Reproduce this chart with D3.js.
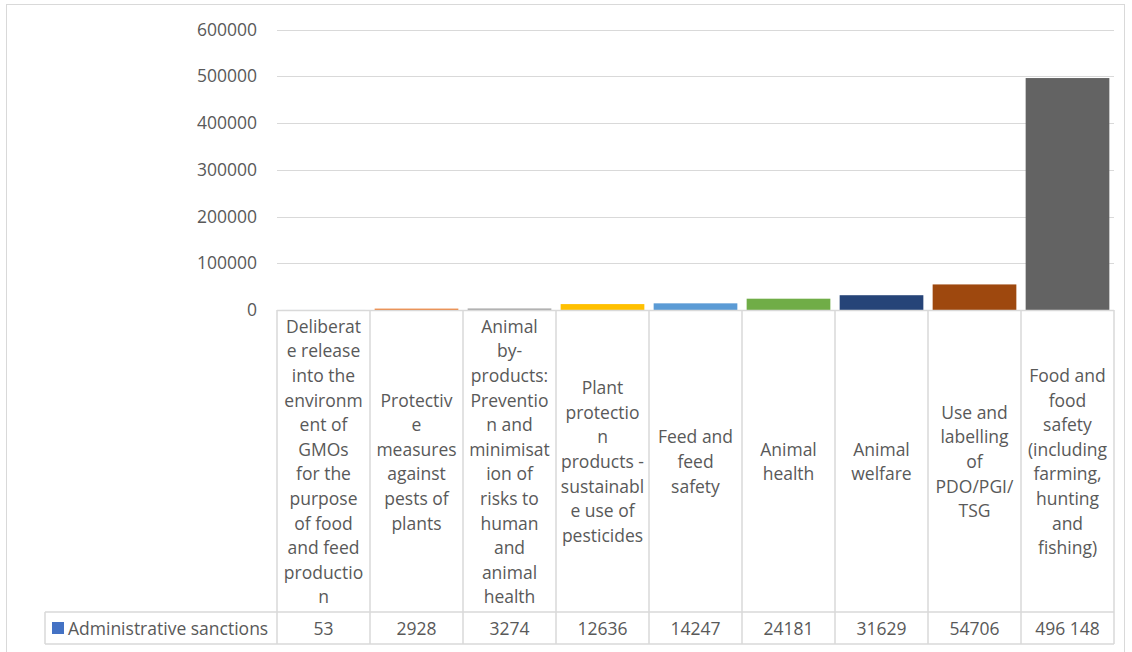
<!DOCTYPE html>
<html>
<head>
<meta charset="utf-8">
<script src="https://cdn.jsdelivr.net/npm/d3@7"></script>
<style>
  html, body { margin: 0; padding: 0; background: #fff; }
  svg { display: block; }
  text { font-family: "Open Sans", "Liberation Sans", sans-serif; fill: #595959; }
</style>
</head>
<body>
<svg id="chart" width="1132" height="652"></svg>
<script>
// ---- data ----
const categories = [
  "Deliberat\ne release\ninto the\nenvironm\nent of\nGMOs\nfor the\npurpose\nof food\nand feed\nproductio\nn",
  "Protectiv\ne\nmeasures\nagainst\npests of\nplants",
  "Animal\nby-\nproducts:\nPreventio\nn and\nminimisat\nion of\nrisks to\nhuman\nand\nanimal\nhealth",
  "Plant\nprotectio\nn\nproducts -\nsustainabl\ne use of\npesticides",
  "Feed and\nfeed\nsafety",
  "Animal\nhealth",
  "Animal\nwelfare",
  "Use and\nlabelling\nof\nPDO/PGI/\nTSG",
  "Food and\nfood\nsafety\n(including\nfarming,\nhunting\nand\nfishing)"
];
const seriesName = "Administrative sanctions";
const values = [53, 2928, 3274, 12636, 14247, 24181, 31629, 54706, 496148];
const valueLabels = ["53", "2928", "3274", "12636", "14247", "24181", "31629", "54706", "496 148"];
const yTicks = [0, 100000, 200000, 300000, 400000, 500000, 600000];
const barColors = ["#4472C4", "#ED7D31", "#A5A5A5", "#FFC000", "#5B9BD5", "#70AD47", "#264478", "#9E480E", "#636363"];
const legendColor = "#4472C4";

// ---- layout ----
const svg = d3.select("#chart");
const plotL = 277, plotR = 1114, plotT = 29.5, plotB = 310;
const rowTop = 612, rowBot = 644, legendL = 45;
const gridColor = "#D9D9D9";
const fontSize = 17.5, lineH = 24.6;

// outer border
svg.append("rect").attr("x", 6.5).attr("y", 4.5).attr("width", 1118).attr("height", 660)
  .attr("fill", "none").attr("stroke", gridColor).attr("stroke-width", 1);

const y = d3.scaleLinear().domain([0, 600000]).range([plotB, plotT]);
const x = d3.scaleBand().domain(d3.range(categories.length)).range([plotL, plotR])
  .paddingInner(0.1).paddingOuter(0.05);
const step = x.step();
const cellX = i => plotL + i * step;

// gridlines
svg.append("g").selectAll("line").data(yTicks.filter(d => d > 0)).join("line")
  .attr("x1", plotL).attr("x2", plotR)
  .attr("y1", d => Math.round(y(d)) + 0.5).attr("y2", d => Math.round(y(d)) + 0.5)
  .attr("stroke", gridColor).attr("stroke-width", 1.2);

// y axis labels
const yAxis = d3.axisLeft(y).tickValues(yTicks).tickSize(0).tickPadding(20).tickFormat(d3.format("d"));
const ga = svg.append("g").attr("transform", `translate(${plotL},0)`).call(yAxis);
ga.select(".domain").remove();
ga.selectAll("text").attr("font-size", fontSize).attr("font-family", "Open Sans").attr("fill", "#595959");

// bars
svg.append("g").selectAll("rect").data(values).join("rect")
  .attr("x", (d, i) => x(i))
  .attr("width", x.bandwidth())
  .attr("y", d => y(d))
  .attr("height", d => y(0) - y(d))
  .attr("fill", (d, i) => barColors[i]);

// table lines
const tbl = svg.append("g").attr("stroke", gridColor).attr("stroke-width", 1.5).attr("fill", "none");
tbl.append("line").attr("x1", plotL).attr("x2", plotR).attr("y1", plotB + 0.5).attr("y2", plotB + 0.5);
tbl.append("line").attr("x1", legendL).attr("x2", plotR).attr("y1", rowTop).attr("y2", rowTop);
tbl.append("line").attr("x1", legendL).attr("x2", plotR).attr("y1", rowBot).attr("y2", rowBot);
tbl.append("line").attr("x1", legendL).attr("x2", legendL).attr("y1", rowTop).attr("y2", rowBot);
tbl.selectAll(".v").data(d3.range(categories.length + 1)).join("line")
  .attr("x1", i => cellX(i)).attr("x2", i => cellX(i))
  .attr("y1", plotB).attr("y2", rowBot);

// category labels
const midY = (plotB + rowTop) / 2;
const labG = svg.append("g");
categories.forEach((c, i) => {
  const lines = c.split("\n");
  const t = labG.append("text").attr("text-anchor", "middle").attr("font-size", fontSize)
    .attr("dominant-baseline", "central");
  const y0 = midY - (lines.length - 1) * lineH / 2;
  lines.forEach((ln, k) => {
    t.append("tspan").attr("x", cellX(i) + step / 2).attr("y", y0 + k * lineH).text(ln);
  });
});

// data row values
const rowMid = (rowTop + rowBot) / 2;
svg.append("g").selectAll("text").data(valueLabels).join("text")
  .attr("x", (d, i) => cellX(i) + step / 2).attr("y", rowMid)
  .attr("text-anchor", "middle").attr("dominant-baseline", "central")
  .attr("font-size", fontSize).text(d => d);

// legend key
svg.append("rect").attr("x", 52).attr("y", rowMid - 6).attr("width", 12).attr("height", 12).attr("fill", legendColor);
svg.append("text").attr("x", 68).attr("y", rowMid).attr("dominant-baseline", "central")
  .attr("font-size", fontSize).text(seriesName);
</script>
</body>
</html>
